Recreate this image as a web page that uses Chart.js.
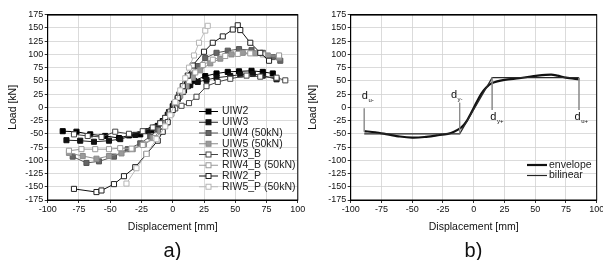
<!DOCTYPE html>
<html><head><meta charset="utf-8">
<script src="https://cdn.jsdelivr.net/npm/chart.js@4.4.0/dist/chart.umd.min.js"></script>
<style>
body{margin:0;width:603px;height:260px;overflow:hidden;background:#fff;position:relative;font-family:"Liberation Sans",Arial,sans-serif}
.c{position:absolute;top:0}
.lab{position:absolute;font-size:20px;color:#111;top:239px;transform:translateX(-50%);line-height:22px}
</style></head><body>
<div class="c" style="left:0;width:310px;height:240px"><canvas id="ca" width="310" height="240" style="width:310px;height:240px"></canvas></div>
<div class="c" style="left:300px;width:320px;height:240px"><canvas id="cb" width="320" height="240" style="width:320px;height:240px"></canvas></div>
<div class="lab" style="left:172.5px">a)</div>
<div class="lab" style="left:473.5px">b)</div>
<script>
// ---------- data (chart a) ----------
const seriesNames = ['UIW2','UIW3','UIW4 (50kN)','UIW5 (50kN)','RIW3_B','RIW4_B (50kN)','RIW2_P','RIW5_P (50kN)'];
const uiw2X = [-88,-77,-66,-54,-43,-35,-26,-17,-12,-8,-4,0,4,8,12,17,26,35,44,53,63,72,80];
const uiw2Y = [-45,-46,-51,-54,-58,-53,-51,-43,-35,-26,-14,2,16,29,40,50,59,64,67,68,69,67,64];
const uiw3X = [-85,-74,-63,-51,-42,-30,-20,-14,-10,-6,-3,1,5,9,14,20,27,35,46,54,64,72,83];
const uiw3Y = [-62,-63,-65,-63,-60,-52,-45,-38,-30,-20,-9,7,20,32,42,48,52,56,59,62,63,60,53];
const uiw4X = [-80,-69,-59,-47,-36,-26,-18,-12,-7,-3,1,5,10,15,20,26,35,44,53,63,72,80,86];
const uiw4Y = [-93,-105,-102,-93,-79,-68,-55,-42,-28,-13,6,24,44,62,78,93,103,107,110,108,103,95,88];
const uiw5X = [-83,-72,-61,-51,-41,-32,-23,-16,-10,-6,-2,2,6,11,16,22,30,38,47,56,66,76,85];
const uiw5Y = [-86,-92,-97,-92,-87,-79,-70,-58,-45,-30,-14,4,22,40,56,70,83,92,100,103,102,98,94];
const riw3bX = [-79,-68,-57,-46,-35,-24,-16,-10,-6,-2,2,7,13,19,27,36,46,59,70,83,90];
const riw3bY = [-51,-54,-56,-46,-50,-45,-38,-30,-20,-8,-2,3,8,20,40,48,54,60,58,56,51];
const riw4bX = [-83,-73,-62,-51,-42,-33,-24,-14,-9,-5,-1,3,8,13,18,24,32,42,52,62,72,85];
const riw4bY = [-82,-79,-79,-79,-77,-78,-71,-58,-45,-30,-12,10,30,50,66,80,90,97,101,102,100,98];
const riw2pX = [-79,-61,-57,-47,-39,-30,-21,-12,-8,-4,0,4,8,12,16,25,32,40,48,52,54,62,70,77];
const riw2pY = [-154,-160,-157,-145,-130,-113,-88,-63,-46,-28,-5,18,40,60,79,105,122,134,147,155,146,122,103,88];
const riw5pX = [-37,-29,-21,-13,-6,-2,2,6,10,13,17,21,26,28];
const riw5pY = [-144,-115,-88,-60,-36,-15,10,32,55,75,98,122,145,154];

// ---------- data (chart b) ----------
const envX = [-89,-80,-70,-60,-50,-40,-30,-21,-16,-10,-6,-2,2,6,10,15,25,37,52,63,68,75,86];
const envY = [-45,-47,-51,-55,-57,-56,-53,-50,-46,-38,-27,-10,8,25,37,46,52,55,60,62,60,56,53];
const bilX = [-89,-11.4,15,85.6];
const bilY = [-50,-50,56,56];
const markX = [-89,-11.4,15,85.6];
const markTop = [-2,8.7,56,56];
const markBot = [-46,-49,-5,-5];
const markSub = ['u-','y-','y+','u+'];
const markLabelX = [-91,-18.5,13.5,82];
const markLabelY = [21,23,-18,-18];

// ---------- ticks ----------
const xTickVals = [-100,-75,-50,-25,0,25,50,75,100];
const yTickVals = [-175,-150,-125,-100,-75,-50,-25,0,25,50,75,100,125,150,175];

const FONT = '"Liberation Sans", Arial, sans-serif';
const pts = (xs, ys) => xs.map((x, i) => ({x, y: ys[i]}));

const styleA = [
  {line:'#000', fill:'#000', edge:'#000'},
  {line:'#222', fill:'#111', edge:'#111'},
  {line:'#555', fill:'#666', edge:'#555'},
  {line:'#8a8a8a', fill:'#9a9a9a', edge:'#8a8a8a'},
  {line:'#444', fill:'#fff', edge:'#444'},
  {line:'#999', fill:'#fff', edge:'#999'},
  {line:'#111', fill:'#fff', edge:'#222'},
  {line:'#bbb', fill:'#fff', edge:'#b5b5b5'}
];
const seriesX = [uiw2X, uiw3X, uiw4X, uiw5X, riw3bX, riw4bX, riw2pX, riw5pX];
const seriesY = [uiw2Y, uiw3Y, uiw4Y, uiw5Y, riw3bY, riw4bY, riw2pY, riw5pY];

function scales(yWidth) {
  return {
    x: {
      type: 'linear', min: xTickVals[0], max: xTickVals[xTickVals.length-1],
      afterBuildTicks: s => { s.ticks = xTickVals.map(v => ({value: v})); },
      ticks: {font: {size: 9, family: FONT}, color: '#111', padding: 1, maxRotation: 0, autoSkip: false},
      grid: {color: '#d2d2d2', lineWidth: 0.8, tickColor: '#000', tickLength: 3},
      border: {color: '#000', width: 1},
      title: {display: true, text: 'Displacement [mm]', font: {size: 10.5, family: FONT}, color: '#111', padding: {top: 0, bottom: 6.7}},
      afterFit: s => { s.height = 40; }
    },
    y: {
      type: 'linear', min: yTickVals[0], max: yTickVals[yTickVals.length-1],
      afterBuildTicks: s => { s.ticks = yTickVals.map(v => ({value: v})); },
      ticks: {font: {size: 9, family: FONT}, color: '#111', padding: 1.5, autoSkip: false},
      grid: {color: '#d2d2d2', lineWidth: 0.8, tickColor: '#000', tickLength: 3},
      border: {color: '#000', width: 1},
      title: {display: true, text: 'Load [kN]', font: {size: 10.5, family: FONT}, color: '#111', padding: {top: 6.4, bottom: 0}},
      afterFit: s => { s.width = yWidth; }
    }
  };
}

const framePlugin = {
  id: 'frame',
  afterDatasetsDraw(chart) {
    const {ctx, chartArea: a} = chart;
    ctx.save();
    ctx.strokeStyle = '#000';
    ctx.lineWidth = 1;
    ctx.strokeRect(a.left, a.top, a.right - a.left, a.bottom - a.top);
    ctx.lineWidth = 1.6;
    ctx.beginPath(); ctx.moveTo(a.left, a.top); ctx.lineTo(a.right, a.top); ctx.stroke();
    ctx.restore();
  }
};

function drawSquare(ctx, x, y, s, fill, edge) {
  ctx.fillStyle = fill; ctx.strokeStyle = edge; ctx.lineWidth = 1;
  ctx.fillRect(x - s/2, y - s/2, s, s);
  ctx.strokeRect(x - s/2, y - s/2, s, s);
}

const legendA = {
  id: 'legendA',
  afterDraw(chart) {
    const ctx = chart.ctx;
    ctx.save();
    ctx.font = '10.5px ' + FONT;
    ctx.textBaseline = 'middle';
    seriesNames.forEach((name, i) => {
      const y = 111.5 + i * 10.75;
      const st = styleA[i];
      ctx.strokeStyle = st.line; ctx.lineWidth = 1;
      ctx.beginPath(); ctx.moveTo(199, y); ctx.lineTo(218, y); ctx.stroke();
      drawSquare(ctx, 208.5, y, 5, st.fill, st.edge);
      ctx.fillStyle = '#222';
      ctx.fillText(name, 222, y);
    });
    ctx.restore();
  }
};

const datasetsA = seriesNames.map((name, i) => ({
  label: name,
  data: pts(seriesX[i], seriesY[i]),
  showLine: true,
  borderColor: styleA[i].line,
  borderWidth: 1,
  pointStyle: 'rect',
  pointRadius: 3.6,
  pointBackgroundColor: styleA[i].fill,
  pointBorderColor: styleA[i].edge,
  pointBorderWidth: 1
})).reverse();

new Chart(document.getElementById('ca'), {
  type: 'scatter',
  data: {datasets: datasetsA},
  options: {
    responsive: false, animation: false, devicePixelRatio: 1,
    layout: {padding: {left: 0, top: 14.7, right: 310 - 297.8, bottom: 0}},
    plugins: {legend: {display: false}, tooltip: {enabled: false}},
    scales: scales(47.7)
  },
  plugins: [framePlugin, legendA]
});

// ---------- chart b ----------
const markDatasets = markX.map((x, i) => ({
  label: 'd' + markSub[i],
  data: pts([x, x], [markTop[i], markBot[i]]),
  showLine: true, borderColor: '#8c8c8c', borderWidth: 0.8, pointRadius: 0
}));

const markLabels = {
  id: 'markLabels',
  afterDraw(chart) {
    const {ctx, scales: {x: sx, y: sy}} = chart;
    ctx.save();
    ctx.fillStyle = '#111';
    ctx.textBaseline = 'middle';
    markSub.forEach((sub, i) => {
      const px = sx.getPixelForValue(markLabelX[i]);
      const py = sy.getPixelForValue(markLabelY[i]);
      ctx.font = '11px ' + FONT;
      ctx.fillText('d', px, py);
      const w = ctx.measureText('d').width;
      ctx.font = '6px ' + FONT;
      ctx.fillText(sub, px + w + 0.5, py + 4);
    });
    // legend
    ctx.font = '10.5px ' + FONT;
    const rows = [{t: 'envelope', w: 2.2, c: '#111'}, {t: 'bilinear', w: 1.2, c: '#222'}];
    rows.forEach((r, i) => {
      const y = 165 + i * 10.5;
      ctx.strokeStyle = r.c; ctx.lineWidth = r.w;
      ctx.beginPath(); ctx.moveTo(227, y); ctx.lineTo(247, y); ctx.stroke();
      ctx.fillStyle = '#222';
      ctx.fillText(r.t, 249, y);
    });
    ctx.restore();
  }
};

new Chart(document.getElementById('cb'), {
  type: 'scatter',
  data: {datasets: [
    ...markDatasets,
    {label: 'bilinear', data: pts(bilX, bilY), showLine: true, borderColor: '#2a2a2a', borderWidth: 1.3, pointRadius: 0},
    {label: 'envelope', data: pts(envX, envY), showLine: true, borderColor: '#111', borderWidth: 2.2, pointRadius: 0, tension: 0.3}
  ]},
  options: {
    responsive: false, animation: false, devicePixelRatio: 1,
    layout: {padding: {left: 0, top: 14.7, right: 320 - 296.7, bottom: 0}},
    plugins: {legend: {display: false}, tooltip: {enabled: false}},
    scales: scales(50.7)
  },
  plugins: [framePlugin, markLabels]
});
</script>
</body></html>
